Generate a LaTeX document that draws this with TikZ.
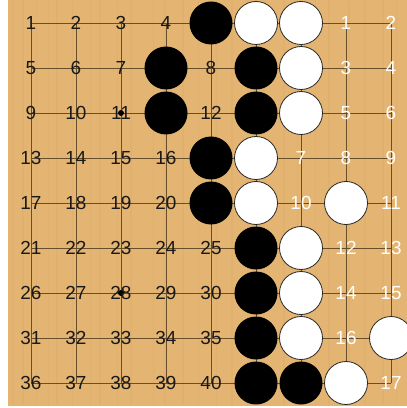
\documentclass[tikz,border=0pt]{standalone}
\usepackage{fontspec}
\setsansfont{Liberation Sans}
\usetikzlibrary{positioning}
\definecolor{woodtan}{RGB}{228,181,114}
\definecolor{woodstreak}{RGB}{208,158,92}
\definecolor{gridbrown}{RGB}{105,78,42}

\begin{document}
\begin{tikzpicture}[
  x=45bp, y=-45bp,
  font=\sffamily\fontsize{19}{20}\selectfont,
  board/.style={fill=woodtan},
  gridline/.style={draw=gridbrown, line width=0.9bp},
  blackstone/.style={circle, fill=black, minimum size=43bp, inner sep=0pt},
  whitestone/.style={circle, fill=white, draw=black!85, line width=0.8bp,
               minimum size=43bp, inner sep=0pt},
  hoshi/.style={circle, fill=black, minimum size=6bp, inner sep=0pt},
  darknum/.style={text=black!90, inner sep=0pt},
  lightnum/.style={text=white, inner sep=0pt}
]
\useasboundingbox (-0.6889,-0.5111) rectangle (8.3556,8.5556);
\clip (-0.6889,-0.5111) rectangle (8.3556,8.5556);

% board
\fill[white] (-0.6889,-0.5111) rectangle (8.3556,8.5556);
\fill[board] (-0.5111,-0.5111) rectangle (8.3556,8.5);
\foreach \s in {-0.42,-0.2,0.1,0.37,0.55,0.9,1.3,1.52,1.9,2.2,2.7,2.95,3.35,
                3.7,4.1,4.45,4.8,5.15,5.6,5.9,6.3,6.6,7.05,7.4,7.8,8.1}
  \fill[woodstreak, opacity=0.18] (\s,-0.5111) rectangle ++(0.04,9.01);

% grid
\foreach \i in {0,...,8} {
  \draw[gridline] (\i,0) -- (\i,8);
  \draw[gridline] (0,\i) -- (8,\i);
}
\node[hoshi] (hoshiA) at (2,2) {};
\node[hoshi] (hoshiB) at (2,6) {};

% numbers on empty points, left side
\foreach \c/\r/\t [count=\k] in {0/0/1,1/0/2,2/0/3,3/0/4,
    0/1/5,1/1/6,2/1/7,4/1/8,
    0/2/9,1/2/10,2/2/11,4/2/12,
    0/3/13,1/3/14,2/3/15,3/3/16,
    0/4/17,1/4/18,2/4/19,3/4/20,
    0/5/21,1/5/22,2/5/23,3/5/24,4/5/25,
    0/6/26,1/6/27,2/6/28,3/6/29,4/6/30,
    0/7/31,1/7/32,2/7/33,3/7/34,4/7/35,
    0/8/36,1/8/37,2/8/38,3/8/39,4/8/40}
  \node[darknum] (d\k) at (\c,\r) {\t};

% numbers on empty points, right side
\foreach \c/\r/\t [count=\k] in {7/0/1,8/0/2,7/1/3,8/1/4,7/2/5,8/2/6,
    6/3/7,7/3/8,8/3/9,6/4/10,8/4/11,7/5/12,8/5/13,
    7/6/14,8/6/15,7/7/16,8/8/17}
  \node[lightnum] (l\k) at (\c,\r) {\t};

% stones
\foreach \c/\r [count=\k] in {4/0,3/1,5/1,3/2,5/2,4/3,4/4,5/5,5/6,5/7,5/8,6/8}
  \node[blackstone] (b\k) at (\c,\r) {};
\foreach \c/\r [count=\k] in {5/0,6/0,6/1,6/2,5/3,5/4,7/4,6/5,6/6,6/7,8/7,7/8}
  \node[whitestone] (w\k) at (\c,\r) {};
\end{tikzpicture}
\end{document}
